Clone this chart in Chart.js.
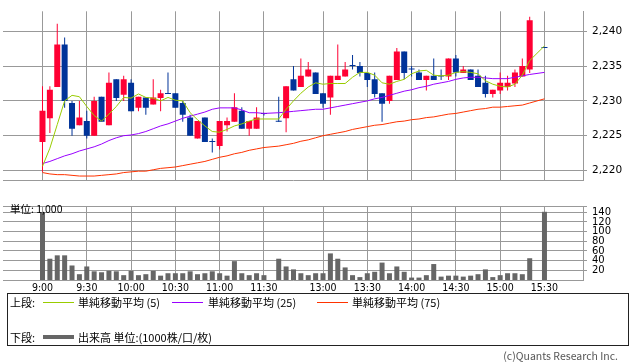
<!DOCTYPE html>
<html>
<head>
<meta charset="utf-8">
<script src="https://cdn.jsdelivr.net/npm/chart.js@4/dist/chart.umd.min.js"></script>
<style>
  body { margin: 0; background: #fff; }
  #wrap { position: relative; width: 638px; height: 362px; overflow: hidden; font-family: 'Noto Sans CJK JP', sans-serif; }
  #priceChart { position: absolute; left: 0; top: 0; }
  #volChart { position: absolute; left: 0; top: 195px; }
  .lbl { position: absolute; font-size: 11px; line-height: 14px; color: #000; white-space: nowrap; }
  .swatch { position: absolute; width: 31px; }
  #legend { position: absolute; left: 7px; top: 293px; width: 620px; height: 51px; border: 1px solid #222; }
</style>
</head>
<body>
<div id="wrap">
  <canvas id="priceChart" width="638" height="192"></canvas>
  <canvas id="volChart" width="638" height="105"></canvas>
  <div class="lbl" style="left:10px;top:202px;font-size:10.5px;">単位: 1,000</div>
  <div id="legend"></div>
  <div class="lbl" style="left:10px;top:295px;">上段:</div>
  <div class="swatch" style="left:43px;top:302px;height:1px;background:#99cc00;"></div>
  <div class="lbl" style="left:78px;top:295px;">単純移動平均 (5)</div>
  <div class="swatch" style="left:172px;top:302px;height:1px;background:#9900ff;"></div>
  <div class="lbl" style="left:208px;top:295px;">単純移動平均 (25)</div>
  <div class="swatch" style="left:317px;top:302px;height:1px;background:#ff3300;"></div>
  <div class="lbl" style="left:352px;top:295px;">単純移動平均 (75)</div>
  <div class="lbl" style="left:10px;top:330px;">下段:</div>
  <div class="swatch" style="left:43px;top:335px;height:4px;background:#666;"></div>
  <div class="lbl" style="left:78px;top:330px;">出来高 単位:(1000株/口/枚)</div>
  <div class="lbl" style="right:20px;top:349px;font-size:10.5px;color:#555;">(c)Quants Research Inc.</div>
</div>
<script>
// 5-minute slots; '' marks the lunch separator, 15:25 has no trades
const times = ['9:00','9:05','9:10','9:15','9:20','9:25','9:30','9:35','9:40','9:45',
  '9:50','9:55','10:00','10:05','10:10','10:15','10:20','10:25','10:30','10:35',
  '10:40','10:45','10:50','10:55','11:00','11:05','11:10','11:15','11:20','11:25',
  '11:30','','12:30','12:35','12:40','12:45','12:50','12:55','13:00','13:05',
  '13:10','13:15','13:20','13:25','13:30','13:35','13:40','13:45','13:50','13:55',
  '14:00','14:05','14:10','14:15','14:20','14:25','14:30','14:35','14:40','14:45',
  '14:50','14:55','15:00','15:05','15:10','15:15','15:20','15:25','15:30'];
const tickLabels = ['9:00','9:30','10:00','10:30','11:00','11:30','13:00','13:30','14:00','14:30','15:00','15:30'];
const priceTicks = [2220, 2225, 2230, 2235, 2240];
const volTicks = [20, 40, 60, 80, 100, 120, 140];

const open = [2224.1, 2227.5, 2232.0, 2238.1, 2229.7, 2226.5, 2227.1, 2225.0, 2230.6, 2226.5,
  2233.1, 2230.9, 2232.6, 2229.0, 2230.5, 2229.5, 2230.4, 2231.1, 2231.1, 2229.7,
  2227.6, 2224.6, 2227.6, 2224.1, 2223.5, 2226.5, 2227.0, 2228.6, 2226.0, 2226.0,
  2228.1, null, 2227.1, 2227.5, 2233.1, 2232.0, 2233.5, 2234.1, 2231.1, 2230.5,
  2233.0, 2233.5, 2235.0, 2235.0, 2234.0, 2233.1, 2231.1, 2230.0, 2233.0, 2237.1,
  2234.5, 2234.1, 2233.0, 2233.6, 2233.5, 2233.5, 2236.1, 2234.0, 2234.5, 2233.6,
  2232.6, 2231.0, 2231.5, 2232.0, 2232.5, 2233.5, 2234.5, null, 2237.6];
const high = [2232.1, 2232.1, 2241.1, 2239.1, 2230.0, 2230.0, 2228.6, 2230.6, 2230.6, 2234.1,
  2233.1, 2233.6, 2233.1, 2230.6, 2230.5, 2233.1, 2231.6, 2234.1, 2231.1, 2230.0,
  2228.0, 2227.1, 2227.6, 2224.6, 2227.1, 2227.6, 2231.1, 2229.1, 2227.1, 2229.1,
  2228.3, null, 2230.6, 2232.1, 2235.0, 2236.1, 2235.6, 2234.1, 2231.1, 2233.6,
  2238.1, 2235.6, 2236.6, 2235.6, 2234.0, 2234.1, 2231.1, 2233.6, 2237.6, 2237.1,
  2235.0, 2234.5, 2233.6, 2236.1, 2234.5, 2236.1, 2236.6, 2235.0, 2234.5, 2234.5,
  2233.6, 2231.6, 2234.1, 2233.6, 2234.5, 2236.1, 2242.1, null, 2237.6];
const low = [2219.8, 2225.4, 2232.0, 2229.0, 2225.0, 2226.5, 2224.6, 2225.0, 2227.0, 2226.5,
  2230.0, 2230.0, 2228.5, 2228.5, 2228.0, 2229.5, 2228.5, 2231.0, 2229.0, 2227.0,
  2225.0, 2224.6, 2224.1, 2222.6, 2223.0, 2225.6, 2227.0, 2226.0, 2225.0, 2226.0,
  2227.9, null, 2227.0, 2225.5, 2231.5, 2232.0, 2233.5, 2231.0, 2229.0, 2228.0,
  2233.0, 2233.5, 2234.5, 2233.5, 2232.0, 2230.5, 2227.0, 2229.6, 2233.0, 2233.1,
  2233.5, 2233.0, 2231.5, 2233.0, 2233.0, 2233.0, 2233.5, 2234.0, 2233.0, 2232.0,
  2230.5, 2230.5, 2231.0, 2231.5, 2232.0, 2233.5, 2234.0, null, 2237.6];
const close = [2228.6, 2231.6, 2238.1, 2230.0, 2226.0, 2227.6, 2225.0, 2230.0, 2227.0, 2232.6,
  2230.4, 2233.1, 2228.5, 2230.6, 2229.0, 2230.5, 2231.1, 2231.0, 2229.0, 2228.0,
  2225.0, 2227.1, 2224.1, 2224.1, 2227.1, 2227.1, 2229.1, 2226.0, 2227.1, 2227.6,
  2228.1, null, 2227.0, 2232.1, 2231.5, 2233.6, 2234.5, 2231.0, 2229.6, 2233.6,
  2233.6, 2234.5, 2235.0, 2234.0, 2233.0, 2231.0, 2229.6, 2233.6, 2237.1, 2234.0,
  2234.5, 2233.0, 2233.6, 2233.0, 2233.5, 2236.1, 2234.1, 2234.5, 2233.0, 2232.0,
  2231.0, 2231.6, 2232.6, 2232.6, 2234.1, 2235.0, 2241.6, null, 2237.6];
const volume = [140, 44, 51, 51, 30, 12, 28, 18, 16, 19,
  18, 10, 19, 10, 12, 19, 9, 14, 14, 14,
  18, 12, 14, 18, 14, 9, 39, 14, 10, 14,
  10, null, 44, 28, 22, 14, 10, 14, 14, 55,
  44, 26, 10, 6, 14, 17, 36, 14, 28, 17,
  5, 5, 10, 33, 7, 9, 9, 7, 9, 12,
  22, 6, 10, 14, 14, 12, 45, null, 141];
const ma5 = [2220.6, 2223.2, 2226.6, 2230.0, 2230.8, 2230.6, 2229.2, 2227.9, 2227.1, 2228.1,
  2229.2, 2230.5, 2230.4, 2231.0, 2230.5, 2230.4, 2230.0, 2230.5, 2230.1, 2230.0,
  2228.3, 2227.3, 2226.4, 2225.6, 2225.5, 2225.9, 2226.4, 2226.7, 2227.1, 2227.4,
  2227.4, null, 2227.4, 2228.8, 2230.0, 2231.1, 2232.0, 2232.6, 2232.4, 2232.5,
  2232.5, 2232.5, 2233.4, 2234.1, 2234.1, 2233.7, 2232.6, 2232.4, 2232.8, 2233.1,
  2233.9, 2234.3, 2234.4, 2233.7, 2233.6, 2233.7, 2234.1, 2234.2, 2234.1, 2233.9,
  2232.9, 2232.4, 2232.1, 2232.0, 2232.4, 2233.7, 2235.8, null, 2237.9];
const ma25 = [2221.0, 2221.3, 2221.7, 2222.1, 2222.4, 2222.8, 2223.1, 2223.4, 2223.8, 2224.3,
  2224.7, 2225.0, 2225.1, 2225.3, 2225.6, 2226.0, 2226.4, 2226.7, 2227.1, 2227.5,
  2227.8, 2228.1, 2228.4, 2228.8, 2229.0, 2229.0, 2229.0, 2228.7, 2228.3, 2228.3,
  2228.2, null, 2228.3, 2228.4, 2228.5, 2228.6, 2228.7, 2228.8, 2228.8, 2229.0,
  2229.2, 2229.4, 2229.6, 2229.8, 2230.0, 2230.3, 2230.5, 2230.8, 2231.1, 2231.4,
  2231.6, 2231.9, 2232.1, 2232.4, 2232.6, 2232.8, 2233.1, 2233.3, 2233.4, 2233.4,
  2233.3, 2233.2, 2233.2, 2233.2, 2233.4, 2233.6, 2233.8, null, 2234.1];
const ma75 = [2219.7, 2219.5, 2219.4, 2219.4, 2219.3, 2219.2, 2219.2, 2219.2, 2219.3, 2219.4,
  2219.5, 2219.7, 2219.8, 2219.9, 2219.9, 2220.1, 2220.3, 2220.4, 2220.5, 2220.7,
  2220.9, 2221.1, 2221.3, 2221.6, 2221.9, 2222.1, 2222.4, 2222.6, 2222.9, 2223.1,
  2223.3, null, 2223.5, 2223.7, 2223.9, 2224.2, 2224.4, 2224.7, 2225.0, 2225.2,
  2225.4, 2225.6, 2225.9, 2226.1, 2226.3, 2226.5, 2226.6, 2226.8, 2227.0, 2227.1,
  2227.3, 2227.4, 2227.6, 2227.7, 2227.9, 2228.1, 2228.2, 2228.4, 2228.6, 2228.8,
  2228.9, 2229.1, 2229.1, 2229.2, 2229.3, 2229.4, 2229.7, null, 2230.3];

const upColor = '#ff0033';
const downColor = '#003399';
const gridColor = '#999';
const numFont = { family: "'DejaVu Sans', sans-serif", size: 10.5 };
const volFont = { family: "'DejaVu Sans', sans-serif", size: 10 };
const timeFont = { family: "'Liberation Sans Narrow', 'DejaVu Sans Condensed', 'Liberation Sans', sans-serif", size: 10.5 };

// x range chosen so 9:00 sits at x=42.5 and 15:30 at x=544.5
const xMin = -5.35, xMax = 73.22;

const slots = times.map((t, i) => i).filter(i => open[i] !== null);
const tickIdx = tickLabels.map(t => times.indexOf(t));
const candleColors = slots.map(i => close[i] > open[i] ? upColor : downColor);
const maLine = arr => slots.map(i => ({ x: i, y: arr[i] }));

function lineSet(label, arr, color) {
  return {
    type: 'line', label: label, data: maLine(arr), borderColor: color,
    borderWidth: 1, pointRadius: 0, tension: 0, spanGaps: true, order: 0
  };
}

function xAxis(showLabels, height) {
  return {
    type: 'linear', min: xMin, max: xMax, bounds: 'data', offset: false,
    afterBuildTicks: s => { s.ticks = tickIdx.map(v => ({ value: v })); },
    afterFit: s => { s.height = height; },
    ticks: {
      display: showLabels, autoSkip: false, maxRotation: 0, padding: 2,
      font: timeFont, color: '#000',
      callback: v => times[v]
    },
    grid: { color: gridColor, drawTicks: false, offset: false },
    border: { color: gridColor }
  };
}

new Chart(document.getElementById('priceChart'), {
  type: 'bar',
  data: {
    datasets: [
      lineSet('単純移動平均(5)', ma5, '#99cc00'),
      lineSet('単純移動平均(25)', ma25, '#9900ff'),
      lineSet('単純移動平均(75)', ma75, '#ff3300'),
      {
        label: 'body', data: slots.map(i => ({ x: i, y: [open[i], close[i]] })),
        backgroundColor: candleColors, barThickness: 6, minBarLength: 1,
        grouped: false, inflateAmount: 0, order: 3
      },
      {
        label: 'wick', data: slots.map(i => ({ x: i, y: [low[i], high[i]] })),
        backgroundColor: candleColors, barThickness: 1, minBarLength: 1,
        grouped: false, inflateAmount: 0, order: 4
      }
    ]
  },
  options: {
    responsive: false,
    animation: false,
    devicePixelRatio: 1,
    layout: { padding: { left: 3, top: 0, right: 0, bottom: 0 } },
    plugins: { legend: { display: false }, tooltip: { enabled: false } },
    scales: {
      x: xAxis(false, 2),
      y: {
        position: 'right', min: 2218.53, max: 2242.88, bounds: 'data',
        afterBuildTicks: s => { s.ticks = priceTicks.map(v => ({ value: v })); },
        afterFit: s => { s.width = 55; },
        ticks: { font: numFont, color: '#000', padding: 5, autoSkip: false, callback: v => v.toLocaleString('en-US') },
        grid: { color: gridColor, tickLength: 4 },
        border: { color: gridColor }
      }
    }
  }
});

const volMax = 153;
new Chart(document.getElementById('volChart'), {
  type: 'bar',
  data: {
    datasets: [{
      label: '出来高',
      data: slots.map(i => ({ x: i, y: volume[i] })),
      backgroundColor: '#666', barThickness: 5, grouped: false, inflateAmount: 0
    }]
  },
  options: {
    responsive: false,
    animation: false,
    devicePixelRatio: 1,
    layout: { padding: { left: 3, top: 6, right: 0, bottom: 0 } },
    plugins: { legend: { display: false }, tooltip: { enabled: false } },
    scales: {
      x: xAxis(true, 20),
      y: {
        position: 'right', min: 0, max: volMax, bounds: 'data',
        afterBuildTicks: s => { s.ticks = volTicks.concat([volMax]).map(v => ({ value: v })); },
        afterFit: s => { s.width = 55; },
        ticks: { font: volFont, color: '#000', padding: 5, autoSkip: false, callback: v => volTicks.includes(v) ? v : '' },
        grid: { color: gridColor, tickLength: 4 },
        border: { color: gridColor }
      }
    }
  }
});
</script>
</body>
</html>
